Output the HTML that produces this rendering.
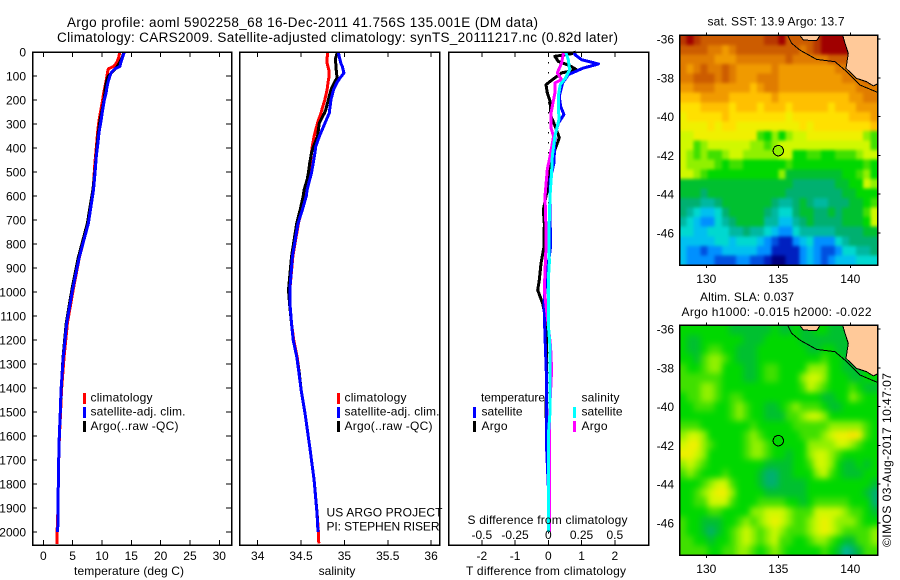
<!DOCTYPE html>
<html>
<head>
<meta charset="utf-8">
<title>Argo profile</title>
<style>
html,body{margin:0;padding:0;background:#fff;}
svg{display:block;}
text{font-family:"Liberation Sans",sans-serif;font-size:12px;fill:#000;}
.ttl{font-size:13.5px;}
</style>
</head>
<body>
<svg id="chart" xmlns="http://www.w3.org/2000/svg" width="900" height="580" viewBox="0 0 900 580" shape-rendering="crispEdges">
<defs>
<filter id="sstSmooth" x="-5%" y="-5%" width="110%" height="110%" color-interpolation-filters="sRGB"><feGaussianBlur stdDeviation="1.6"/></filter>
<filter id="slaSmooth" x="-5%" y="-5%" width="110%" height="110%" color-interpolation-filters="sRGB"><feGaussianBlur stdDeviation="3.2"/></filter>
</defs>
<rect x="0" y="0" width="900" height="580" fill="#fff"/>
<text class="ttl" x="67" y="27" textLength="471" lengthAdjust="spacing">Argo profile: aoml 5902258_68 16-Dec-2011 41.756S 135.001E (DM data)</text>
<text class="ttl" x="57" y="42" textLength="561" lengthAdjust="spacing">Climatology: CARS2009. Satellite-adjusted climatology: synTS_20111217.nc (0.82d later)</text>

<g id="tPanel"></g>
<g id="sPanel"></g>
<g id="dPanel"></g>

<g>
<rect x="83" y="393" width="3" height="11" fill="#f00"/>
<text x="90.5" y="401.5" textLength="62" lengthAdjust="spacing">climatology</text>
<rect x="83" y="407" width="3" height="11" fill="#00f"/>
<text x="90.5" y="415.5" textLength="95" lengthAdjust="spacing">satellite-adj. clim.</text>
<rect x="83" y="421" width="3" height="11" fill="#000"/>
<text x="90.5" y="430" textLength="88" lengthAdjust="spacing">Argo(..raw -QC)</text>
</g>
<g>
<rect x="337" y="393" width="3" height="11" fill="#f00"/>
<text x="344.5" y="401.5" textLength="62" lengthAdjust="spacing">climatology</text>
<rect x="337" y="407" width="3" height="11" fill="#00f"/>
<text x="344.5" y="415.5" textLength="95" lengthAdjust="spacing">satellite-adj. clim.</text>
<rect x="337" y="421" width="3" height="11" fill="#000"/>
<text x="344.5" y="430" textLength="88" lengthAdjust="spacing">Argo(..raw -QC)</text>
<text x="326.5" y="516.5" textLength="116" lengthAdjust="spacing">US ARGO PROJECT</text>
<text x="326.5" y="530.5" textLength="113" lengthAdjust="spacing">PI: STEPHEN RISER</text>
</g>
<g>
<text x="481" y="401.5" textLength="64" lengthAdjust="spacing">temperature</text>
<text x="581.5" y="401.5" textLength="38" lengthAdjust="spacing">salinity</text>
<rect x="473" y="407" width="3" height="11" fill="#00f"/>
<text x="481.5" y="415.5" textLength="41" lengthAdjust="spacing">satellite</text>
<rect x="473" y="421" width="3" height="11" fill="#000"/>
<text x="481.5" y="430" textLength="26" lengthAdjust="spacing">Argo</text>
<rect x="573" y="407" width="3" height="11" fill="#0ff"/>
<text x="581.5" y="415.5" textLength="41" lengthAdjust="spacing">satellite</text>
<rect x="573" y="421" width="3" height="11" fill="#f0f"/>
<text x="581.5" y="430" textLength="26" lengthAdjust="spacing">Argo</text>
<text x="467.5" y="524" textLength="160" lengthAdjust="spacing">S difference from climatology</text>
</g>

<g id="sstMap"></g>
<g id="slaMap"></g>

<text x="707.5" y="25.5" textLength="137" lengthAdjust="spacing">sat. SST: 13.9 Argo: 13.7</text>
<text x="700" y="301" textLength="94" lengthAdjust="spacing">Altim. SLA: 0.037</text>
<text x="681.5" y="316" textLength="190" lengthAdjust="spacing">Argo h1000: -0.015 h2000: -0.022</text>
<text transform="translate(891,547) rotate(-90)" x="0" y="0" textLength="174" lengthAdjust="spacing">©IMOS 03-Aug-2017 10:47:07</text>
</svg>

<script>
/* ---------- profile data ---------- */
const tsDepths = [0,20,45,60,70,85,100,120,145,170,200,250,285,335,380,435,480,575,715,855,990,1130,1270,1410,1500,1600,1700,1800,1900,2000,2050];
const tClimatology = [13.0,12.9,12.5,12.0,11.1,10.95,10.85,10.7,10.5,10.3,10.1,9.75,9.5,9.25,9.1,8.9,8.75,8.5,7.65,6.15,5.1,4.1,3.55,3.1,2.95,2.75,2.62,2.56,2.5,2.35,2.33];
const tArgo = [13.75,13.5,13.0,12.6,12.3,11.7,11.1,10.8,10.6,10.5,10.35,9.95,9.66,9.4,9.2,9.0,8.86,8.45,7.5,5.98,4.88,3.9,3.38,3.03,2.9,2.73,2.62,2.56,2.5,2.45,null];
const tSatellite = [13.8,13.55,13.2,13.07,12.2,11.6,11.35,11.1,10.85,10.7,10.4,10.06,9.85,9.5,9.3,9.03,8.9,8.55,7.67,6.14,5.0,3.98,3.41,3.02,2.9,2.73,2.62,2.56,2.5,2.45,null];

const salDepths = [0,25,47,60,74,87,108,130,157,198,240,254,296,352,393,420,463,504,532,574,600,657,714,853,992,1061,1130,1200,1269,1338,1408,1505,1644,1783,1922,2000,2047];
const sClimatology = [34.81,34.80,34.80,34.81,34.82,34.82,34.82,34.81,34.80,34.775,34.74,34.73,34.69,34.65,34.63,34.62,34.605,34.59,34.58,34.56,34.54,34.51,34.47,34.405,34.37,34.375,34.39,34.415,34.455,34.48,34.50,34.545,34.60,34.65,34.685,34.70,34.705];
const sArgo = [34.92,34.90,34.90,34.905,34.905,34.91,34.915,34.88,34.845,34.815,34.785,34.77,34.71,34.69,34.645,34.62,34.60,34.585,34.57,34.535,34.525,34.49,34.45,34.39,34.355,34.37,34.39,34.41,34.45,34.48,34.50,34.545,34.60,34.65,34.685,34.695,null];
const sSatellite = [34.93,34.945,34.96,34.976,34.985,34.995,34.95,34.91,34.875,34.845,34.83,34.826,34.776,34.71,34.67,34.66,34.64,34.62,34.60,34.57,34.56,34.515,34.465,34.40,34.37,34.375,34.39,34.41,34.45,34.476,34.50,34.545,34.60,34.65,34.684,34.695,null];

const tDiffArgoDepths = [0,7,18,39,57,74,87,115,136,171,205,268,317,358,407,490,533,601,657,714,811,881,950,992,1047,1103,1186,1367,1500,1600,1700];
const tDiffArgo = [0.83,0.7,0.2,0.3,0.65,0.85,0.4,0.13,-0.07,-0.03,0.05,0.08,0.23,0.33,0.2,0.05,0.03,-0.07,-0.15,-0.12,-0.13,-0.22,-0.27,-0.32,-0.17,-0.09,-0.05,-0.05,-0.07,-0.04,-0.03];
const tDiffSatDepths = [0,11,32,50,67,94,129,185,226,261,296,351,462,533,601,672,811,950,1047,1186,1367,1500,1650,1810,2000];
const tDiffSat = [0.78,0.8,1.0,1.51,1.05,0.6,0.43,0.33,0.37,0.47,0.3,0.2,0.17,0.05,0.05,0.05,0.07,-0.07,-0.13,-0.1,-0.05,-0.05,-0.05,0,0];
const sDiffArgoDepths = [0,18,46,87,115,129,171,199,254,317,351,435,490,601,740,811,992,1228,1325,1500,1800,2000];
const sDiffArgo = [0.118,0.11,0.10,0.068,0.10,0.05,0.05,0.04,0.02,0.02,0.04,0.0125,-0.0075,-0.025,-0.0175,-0.0175,-0.03,0.0175,0.025,0.01,0.008,0.008];
const sDiffSatDepths = [0,32,74,108,136,185,282,351,435,504,601,740,880,950,1150,1228,1367,1500,1600,2000];
const sDiffSat = [0.13,0.15,0.16,0.13,0.09,0.075,0.08,0.05,0.03,0.025,0.0125,0.005,0.0075,0,0.0025,0.0125,0.0125,0.0125,0,0];

/* ---------- tick labels ---------- */
const depthTicks = [0,100,200,300,400,500,600,700,800,900,1000,1100,1200,1300,1400,1500,1600,1700,1800,1900,2000];
const tTicks = [0,5,10,15,20,25,30];
const sTicks = [34,34.5,35,35.5,36];
const sTickLabels = ["34","34.5","35","35.5","36"];
const tDiffTicks = [-2,-1,0,1,2];
const sDiffTicks = [-0.5,-0.25,0,0.25,0.5];
const lonTicks = [130,135,140];
const latTicks = [-36,-38,-40,-42,-44,-46];

/* ---------- map data: colour-scale level per grid cell (rows north to south) ---------- */
const sstLevels = [
[19,20,19,18,18,18,18,18,18,18,18,18,19,19,20,18,18,18,18,19,20,20,20,20,20,18,18,18],
[18,18,18,18,17,17,16,17,18,18,18,18,18,18,18,18,18,17,18,19,20,20,20,20,19,18,18,18],
[17,17,17,17,17,16,16,16,17,17,17,17,17,17,17,18,17,17,17,17,17,18,18,18,18,18,18,18],
[17,16,17,18,17,17,18,17,16,16,16,16,16,17,16,16,16,16,16,16,16,16,17,17,17,18,18,18],
[17,17,18,18,18,17,18,17,16,16,16,17,17,17,16,16,16,16,16,16,16,16,16,17,17,17,18,18],
[16,16,17,17,17,16,16,16,16,16,15,16,17,17,16,16,16,16,16,16,16,16,16,16,16,17,17,17],
[15,15,15,16,16,16,16,15,15,15,15,15,15,16,15,15,15,15,15,15,15,15,15,15,16,16,17,17],
[14,14,14,15,15,15,15,14,15,15,15,14,15,15,15,14,15,15,15,15,15,14,15,15,15,16,16,16],
[13,14,14,14,14,14,15,14,14,14,14,14,14,14,14,13,14,14,14,14,14,14,14,14,15,15,15,16],
[13,13,13,13,14,13,14,14,13,13,13,13,13,13,13,13,13,14,13,14,14,14,14,14,14,14,14,15],
[12,12,13,13,13,13,13,13,13,13,13,10,9,11,9,11,12,12,13,13,13,13,13,13,13,13,11,10],
[12,12,10,11,12,12,12,12,12,12,11,11,10,11,12,12,12,12,12,12,12,12,12,12,12,12,12,10],
[12,11,10,11,10,10,11,12,12,11,11,11,11,11,12,12,9,9,10,10,9,9,10,10,10,11,12,12],
[12,11,11,11,11,10,9,10,10,9,9,9,9,9,9,10,9,9,9,9,9,9,9,9,9,9,10,9],
[12,12,11,10,9,9,9,9,9,9,9,9,9,9,11,8,8,8,8,8,8,8,8,9,9,10,11,9],
[8,8,8,8,8,8,8,8,8,8,8,8,8,8,8,8,7,7,7,7,7,7,8,8,9,9,12,11],
[8,8,8,7,8,8,8,8,8,8,8,8,8,8,8,7,7,7,7,7,7,7,7,8,8,9,9,9],
[7,7,7,6,6,7,8,8,8,8,8,8,8,7,6,6,7,8,7,6,6,7,7,7,8,8,9,10],
[7,6,5,4,4,5,7,8,8,8,8,8,7,6,5,5,7,8,8,7,7,8,7,8,8,8,10,12],
[6,5,4,3,3,5,6,7,8,8,8,8,6,6,4,4,6,7,8,7,7,7,7,8,8,8,9,12],
[5,5,4,4,5,5,5,6,6,7,6,6,5,4,3,3,5,6,6,6,6,6,7,7,7,7,8,8],
[4,4,4,4,4,5,5,4,5,5,5,4,3,2,1,1,3,4,5,3,3,3,5,6,7,7,7,7],
[4,3,3,2,3,3,4,4,4,4,4,3,3,1,1,1,1,3,4,3,2,2,3,5,5,6,6,7],
[4,3,3,3,3,2,2,2,3,3,2,2,1,0,0,1,1,3,4,3,2,3,4,4,4,5,5,5]
];
const slaLevels = [
[9,9,9,9,9,9,9,8,8,8,8,8,8,9,8,8,9,8,8,9,9,8,8,8,8,9,9,9],
[9,8,8,9,9,9,9,9,9,8,8,8,9,9,9,9,9,8,8,8,8,8,8,8,9,9,9,9],
[9,8,8,9,10,10,9,9,8,8,8,9,9,9,9,9,9,9,8,8,9,9,8,8,8,9,9,9],
[9,9,8,10,11,11,10,9,8,8,8,9,9,9,9,9,9,9,9,9,10,9,9,8,8,9,9,9],
[10,9,9,10,11,11,9,9,9,8,8,9,10,10,9,9,9,9,11,11,11,9,9,8,8,8,9,9],
[10,10,10,10,10,10,9,9,9,8,8,9,10,10,9,9,9,11,12,12,11,9,9,9,8,8,9,9],
[10,10,10,11,11,10,9,9,9,9,9,9,9,9,9,9,9,10,12,11,10,9,9,9,10,9,8,8],
[9,10,10,11,11,10,9,10,10,9,9,9,9,9,9,9,9,9,9,9,8,8,9,9,11,10,9,9],
[9,9,10,10,10,9,9,10,11,10,9,9,8,8,9,10,11,10,10,10,9,8,8,9,9,9,9,9],
[9,9,9,9,9,9,9,10,11,10,9,9,8,8,8,10,10,11,12,12,11,9,9,9,9,9,9,9],
[10,10,10,9,9,9,9,9,9,9,10,9,9,9,9,9,10,10,10,10,10,11,11,11,11,11,10,9],
[11,12,12,11,9,9,9,9,9,10,11,10,9,9,9,9,9,10,10,10,11,12,13,13,14,13,10,9],
[12,13,13,11,10,9,9,9,9,10,11,11,10,9,9,9,9,9,11,11,11,11,12,12,11,10,9,9],
[13,13,12,11,9,9,9,9,9,10,11,11,10,9,9,8,9,9,11,12,12,11,10,9,9,9,9,9],
[11,12,11,10,9,9,9,9,9,9,9,9,8,8,8,8,9,9,10,12,12,11,9,8,8,9,8,9],
[10,11,10,9,9,9,10,9,9,9,9,8,7,7,8,8,9,9,9,11,12,10,9,8,8,8,9,9],
[9,9,9,10,11,12,12,10,9,9,9,8,7,7,8,8,8,8,9,9,9,9,9,9,9,9,9,8],
[9,9,10,11,12,13,13,11,9,9,9,9,8,8,8,8,8,8,9,9,9,9,9,9,9,9,8,7],
[9,9,10,10,12,12,12,10,9,9,9,10,10,10,10,9,9,8,9,10,10,10,10,10,9,9,9,7],
[9,9,9,9,10,10,9,9,9,9,11,11,12,12,12,11,10,10,10,12,12,12,12,11,10,10,9,8],
[10,9,9,8,8,8,9,9,10,11,10,11,12,13,12,11,10,10,11,12,13,12,11,11,11,10,9,9],
[10,9,9,8,7,8,9,10,11,12,11,10,11,12,11,10,10,10,11,12,13,12,11,10,10,10,10,11],
[10,10,9,9,8,9,9,10,11,12,11,10,11,12,10,10,9,9,10,11,11,10,9,8,8,10,10,11],
[10,10,10,10,9,9,10,10,11,11,10,9,10,11,10,9,9,9,9,9,10,9,8,6,7,8,10,10]
];
const coastLon = [135.65,135.93,136.5,137.66,138.94,139.75,140.67,141.88];
const coastLat = [-35.81,-36.22,-36.57,-37.05,-37.17,-37.68,-38.37,-38.75];
const landLon = [139.47,139.63,139.86,139.70,140.44,141.13,141.6,141.88,141.88];
const landLat = [-35.81,-36.22,-36.74,-37.51,-38.03,-38.2,-38.42,-38.32,-35.81];
const islandLon = [136.5,136.74,137.66,137.9];
const islandLat = [-35.81,-36.05,-36.09,-35.81];
const floatLon = 135.001;
const floatLat = -41.756;
const floatSstLevel = 11;
const floatSlaLevel = 9;

/* ---------- rendering ---------- */
const NS = "http://www.w3.org/2000/svg";
const levelColors = ["#000080","#0020c0","#0050e0","#0090ff","#00c0f0","#00d8d0","#00b8a0","#00b070","#00c030","#00d800","#40e000","#90f000","#d0f800","#f0f000","#ffe000","#ffc000","#f09a00","#e07c00","#cc5c00","#b83800","#a00000"];

function make(tag, parent, attrs, txt){
  const el = document.createElementNS(NS, tag);
  for (const k in attrs) el.setAttribute(k, attrs[k]);
  if (txt !== undefined) el.textContent = txt;
  parent.appendChild(el);
  return el;
}
const yDepth = d => 52 + d * 0.24;
const xTemp = t => 43.3 + t * 5.867;
const xSal = s => 257.7 + (s - 34) * 86.7;
const xTDiff = t => 548.3 + t * 33.25;
const xSDiff = s => 548.3 + s * 133;

function frame(parent, x0, x1){
  const r = make("rect", parent, {x:x0, y:52, width:x1-x0, height:493, fill:"none", stroke:"#000", "stroke-width":1.5});
  
  
}
function xTick(parent, x, label){
  const top = make("line", parent, {x1:x, x2:x, y1:52, y2:57, stroke:"#000"});
  
  
  const bot = make("line", parent, {x1:x, x2:x, y1:540, y2:545, stroke:"#000"});
  
  
  const t = make("text", parent, {x:x, y:560, "text-anchor":"middle"}, label);
  
  
}
function profile(parent, depths, values, xf, color, name){
  const pts = [];
  values.forEach((v, i) => { if (v !== null) pts.push(xf(v).toFixed(1) + "," + yDepth(depths[i]).toFixed(1)); });
  const p = make("polyline", parent, {points:pts.join(" "), fill:"none", stroke:color, "stroke-width":3, "stroke-linejoin":"round"});
  
  
}

/* temperature panel */
const tPanel = document.getElementById("tPanel");
profile(tPanel, tsDepths, tClimatology, xTemp, "#f00", "temperature-climatology-line");
profile(tPanel, tsDepths, tArgo, xTemp, "#000", "temperature-argo-line");
profile(tPanel, tsDepths, tSatellite, xTemp, "#00f", "temperature-satellite-line");
frame(tPanel, 32.5, 231.5);
depthTicks.forEach(d => {
  const y = Math.round(yDepth(d));
  const l = make("line", tPanel, {x1:33, x2:37, y1:y, y2:y, stroke:"#000"});
  
  
  const r = make("line", tPanel, {x1:226, x2:231, y1:y, y2:y, stroke:"#000"});
  
  
  const t = make("text", tPanel, {x:26, y:y+4.5, "text-anchor":"end"}, d);
  
  
});
tTicks.forEach(v => xTick(tPanel, xTemp(v), v));
const tTitle = make("text", tPanel, {x:129, y:575, "text-anchor":"middle", textLength:110, lengthAdjust:"spacing"}, "temperature (deg C)");



/* salinity panel */
const sPanel = document.getElementById("sPanel");
profile(sPanel, salDepths, sClimatology, xSal, "#f00", "salinity-climatology-line");
profile(sPanel, salDepths, sArgo, xSal, "#000", "salinity-argo-line");
profile(sPanel, salDepths, sSatellite, xSal, "#00f", "salinity-satellite-line");
frame(sPanel, 239.5, 439.5);
sTicks.forEach((v, i) => xTick(sPanel, xSal(v), sTickLabels[i]));
const sTitle = make("text", sPanel, {x:337, y:575, "text-anchor":"middle"}, "salinity");



/* difference panel */
const dPanel = document.getElementById("dPanel");
const zeroLine = make("line", dPanel, {x1:548.5, x2:548.5, y1:52, y2:545, stroke:"#000", "stroke-dasharray":"1.5 8.5"});


profile(dPanel, tDiffArgoDepths, tDiffArgo, xTDiff, "#000", "t-difference-argo-line");
profile(dPanel, tDiffSatDepths, tDiffSat, xTDiff, "#00f", "t-difference-satellite-line");
profile(dPanel, sDiffArgoDepths, sDiffArgo, xSDiff, "#f0f", "s-difference-argo-line");
profile(dPanel, sDiffSatDepths, sDiffSat, xSDiff, "#0ff", "s-difference-satellite-line");
frame(dPanel, 448.5, 648.5);
tDiffTicks.forEach(v => xTick(dPanel, xTDiff(v), v));
sDiffTicks.forEach(v => {
  const t = make("text", dPanel, {x:xSDiff(v), y:539, "text-anchor":"middle"}, v);
  
  
});
const dTitle = make("text", dPanel, {x:546, y:575, "text-anchor":"middle", textLength:160, lengthAdjust:"spacing"}, "T difference from climatology");



/* maps */
function drawMap(id, levels, lat36Y, floatLevel, cellName, smoothId){
  const g = document.getElementById(id);
  const xLon = lon => 706.3 + (lon - 130) * 14.4;
  const yLat = lat => lat36Y + (-36 - lat) * 19.4;
  const lon0 = 128.13, lat0 = -35.81, dLon = 13.75 / 28, dLat = 11.84 / 24;
  const top = yLat(lat0), bottom = yLat(lat0 - 11.84);
  const defs = document.querySelector("defs");
  const clip = make("clipPath", defs, {id:id + "Clip"});
  make("rect", clip, {x:679.5, y:top, width:198, height:bottom-top});
  const clipGroup = make("g", g, {"clip-path":"url(#" + id + "Clip)"});
  
  
  const cells = make("g", clipGroup, {filter:"url(#" + smoothId + ")"});
  
  
  const nRows = levels.length;
  levels.forEach((row, j) => row.forEach((v, i) => {
    /* outer cells bleed past the frame so smoothing does not fade at the edge */
    const x0 = xLon(lon0 + i * dLon) - (i === 0 ? 12 : 0);
    const x1 = xLon(lon0 + (i + 1) * dLon) + (i === row.length - 1 ? 12 : 0);
    const y0 = yLat(lat0 - j * dLat) - (j === 0 ? 12 : 0);
    const y1 = yLat(lat0 - (j + 1) * dLat) + (j === nRows - 1 ? 12 : 0);
    const c = make("rect", cells, {x:x0.toFixed(1), y:y0.toFixed(1), width:(x1-x0+0.6).toFixed(1), height:(y1-y0+0.6).toFixed(1), fill:levelColors[v]});
    
    
  }));
  const pts = (lons, lats) => lons.map((l, i) => xLon(l).toFixed(1) + "," + yLat(lats[i]).toFixed(1)).join(" ");
  const land = make("polygon", clipGroup, {points:pts(landLon, landLat), fill:"#ffc999", stroke:"#000", "stroke-width":1});
  
  
  const island = make("polygon", clipGroup, {points:pts(islandLon, islandLat), fill:"#ffc999", stroke:"#000", "stroke-width":1});
  
  
  const coast = make("polyline", clipGroup, {points:pts(coastLon, coastLat), fill:"none", stroke:"#000", "stroke-width":1});
  
  
  const dot = make("circle", g, {cx:xLon(floatLon), cy:yLat(floatLat), r:5.2, fill:levelColors[floatLevel], stroke:"#000", "stroke-width":1});
  
  
  const fr = make("rect", g, {x:679.5, y:top, width:198, height:bottom-top, fill:"none", stroke:"#000", "stroke-width":1.5});
  
  
  lonTicks.forEach(l => {
    const x = xLon(l);
    const a = make("line", g, {x1:x, x2:x, y1:top-3, y2:top, stroke:"#000"});
    
    
    const b = make("line", g, {x1:x, x2:x, y1:bottom, y2:bottom+3, stroke:"#000"});
    
    
    const t = make("text", g, {x:x, y:bottom+18, "text-anchor":"middle"}, l);
    
    
  });
  latTicks.forEach(l => {
    const y = yLat(l);
    const a = make("line", g, {x1:877.5, x2:880.5, y1:y, y2:y, stroke:"#000"});
    
    
    const t = make("text", g, {x:674, y:y+4.5, "text-anchor":"end"}, l);
    
    
  });
}
drawMap("sstMap", sstLevels, 39, floatSstLevel, "sst-cell", "sstSmooth");
drawMap("slaMap", slaLevels, 329, floatSlaLevel, "sla-cell", "slaSmooth");
</script>
</body>
</html>
